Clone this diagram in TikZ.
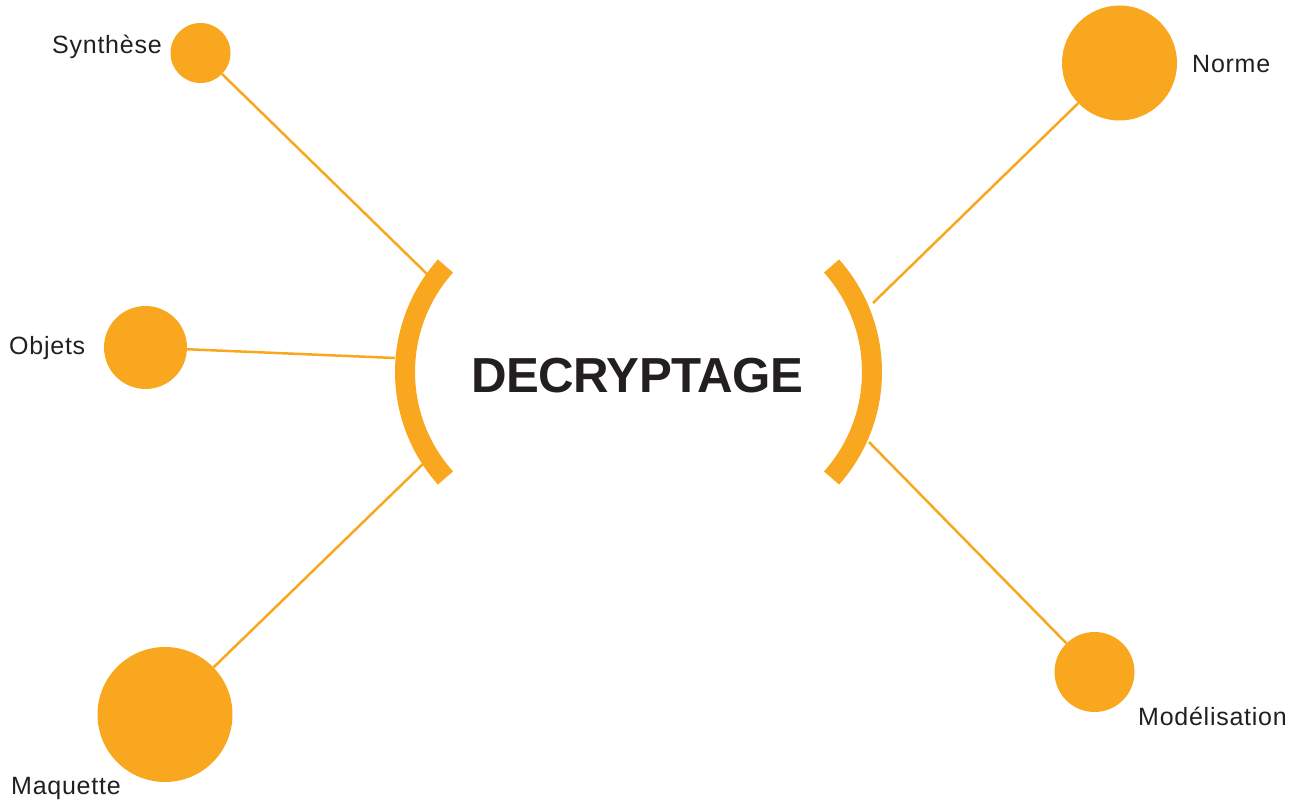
\documentclass[tikz,border=0pt]{standalone}
\usepackage{fontspec}
\setmainfont{Liberation Sans}
\newfontfamily\lblfont[LetterSpace=3]{Liberation Sans}
\newfontfamily\titlefont[LetterSpace=-1]{Liberation Sans}
\definecolor{orng}{HTML}{F8A71E}
\definecolor{ink}{HTML}{231F20}
\tikzset{
  dot/.style={circle, fill=orng, draw=none, inner sep=0pt},
  lbl/.style={inner sep=0pt, text=ink, font=\lblfont\fontsize{25}{30}\selectfont},
  spoke/.style={draw=orng, line width=2.5pt},
  bracket/.style={draw=orng, line width=20pt},
}
\begin{document}
\begin{tikzpicture}[x=1pt, y=-1pt]
\useasboundingbox (0,0) rectangle (1293,802);
% circles
\node[dot, minimum size=60pt] (syn) at (200.5,53) {};
\node[dot, minimum size=83pt] (obj) at (145.5,347.5) {};
\node[dot, minimum size=135pt] (maq) at (165,714.5) {};
\node[dot, minimum size=115pt] (nor) at (1119.5,63) {};
\node[dot, minimum size=80pt] (mod) at (1094.5,672) {};
% labels
\node[lbl, anchor=base west] (lsyn) at (52,54) {Synthèse};
\node[lbl, anchor=base west] (lobj) at (9,354) {Objets};
\node[lbl, anchor=base west] (lmaq) at (11,794) {Maquette};
\node[lbl, anchor=base west] (lnor) at (1192,73) {Norme};
\node[lbl, anchor=base west] (lmod) at (1138,725) {Modélisation};
% title
\node[inner sep=0pt, text=ink, anchor=base, font=\titlefont\bfseries\fontsize{49.2}{58}\selectfont] (title) at (637,392) {DECRYPTAGE};
% brackets
\draw[bracket] (564,372) ++(138.2:159) arc[start angle=138.2, end angle=221.8, radius=159];
\draw[bracket] (713,372) ++(-41.8:159) arc[start angle=-41.8, end angle=41.8, radius=159];
% spoke end points on brackets
\coordinate (bsyn) at (427,274);
\coordinate (bobj) at (395,358);
\coordinate (bmaq) at (424,463);
\coordinate (bnor) at (873,303);
\coordinate (bmod) at (869,442);
\draw[spoke] (syn) -- (bsyn);
\draw[spoke] (obj) -- (bobj);
\draw[spoke] (maq) -- (bmaq);
\draw[spoke] (nor) -- (bnor);
\draw[spoke] (mod) -- (bmod);
\end{tikzpicture}
\end{document}
